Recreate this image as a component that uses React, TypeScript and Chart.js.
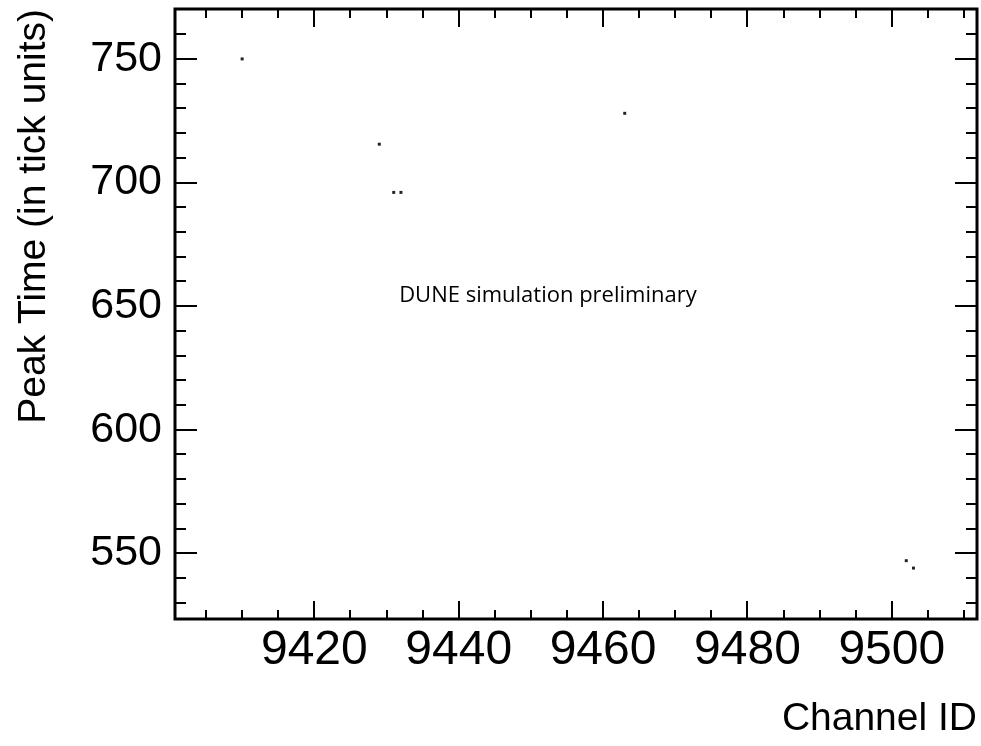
import React, { useEffect, useRef } from 'react';
import { Chart, registerables } from 'chart.js';

Chart.register(...registerables);

// ---- data ----
const channelIds = [9410, 9429, 9431, 9432, 9463, 9502, 9503];
const peakTimes = [750, 715.5, 696, 696, 728, 547, 544];

const xTickValues = [9420, 9440, 9460, 9480, 9500];
const yTickValues = [550, 600, 650, 700, 750];
const xRange = [9400.7, 9511.8];
const yRange = [523.4, 770.2];
const xMinorStep = 5;
const yMinorStep = 10;

const xTitle = 'Channel ID';
const yTitle = 'Peak Time (in tick units)';
const watermark = 'DUNE simulation preliminary';

const FONT = '"Liberation Sans", Arial, Helvetica, sans-serif';

const framePlugin = {
  id: 'rootFrame',
  afterDraw(chart: any) {
    const { ctx, chartArea: a } = chart;
    const xs = chart.scales.x;
    const ys = chart.scales.y;
    ctx.save();
    ctx.strokeStyle = '#000';
    ctx.lineWidth = 2;
    const line = (x1: number, y1: number, x2: number, y2: number) => {
      ctx.beginPath();
      ctx.moveTo(x1, y1);
      ctx.lineTo(x2, y2);
      ctx.stroke();
    };
    // x ticks (bottom and top, inside)
    const x0 = Math.ceil(xRange[0] / xMinorStep) * xMinorStep;
    for (let v = x0; v < xRange[1]; v += xMinorStep) {
      const major = xTickValues.includes(v) || v % 20 === 0;
      const len = major ? 18 : 9;
      const px = Math.round(xs.getPixelForValue(v));
      line(px, a.bottom, px, a.bottom - len);
      line(px, a.top, px, a.top + len);
    }
    // y ticks (left and right, inside)
    const y0 = Math.ceil(yRange[0] / yMinorStep) * yMinorStep;
    for (let v = y0; v < yRange[1]; v += yMinorStep) {
      const major = yTickValues.includes(v) || v % 50 === 0;
      const len = major ? 22 : 11;
      const py = Math.round(ys.getPixelForValue(v));
      line(a.left, py, a.left + len, py);
      line(a.right, py, a.right - len, py);
    }
    // frame
    ctx.lineWidth = 3;
    ctx.strokeRect(a.left, a.top, a.right - a.left, a.bottom - a.top);

    // watermark text
    ctx.fillStyle = '#000';
    ctx.font = '22px "Open Sans", "Noto Sans", sans-serif';
    ctx.textAlign = 'center';
    ctx.textBaseline = 'alphabetic';
    const w = a.right - a.left;
    const h = a.bottom - a.top;
    ctx.fillText(watermark, a.left + 0.465 * w, a.top + 0.481 * h);
    ctx.restore();
  },
};

const zeroPad = (s: any) => {
  s.paddingTop = 0;
  s.paddingBottom = 0;
  s.paddingLeft = 0;
  s.paddingRight = 0;
};

export default function App() {
  const canvasRef = useRef<HTMLCanvasElement | null>(null);

  useEffect(() => {
    const canvas = canvasRef.current;
    if (!canvas) return;
    const points = channelIds.map((c, i) => ({ x: c, y: peakTimes[i] }));
    const chart = new Chart(canvas, {
      type: 'scatter',
      data: {
        datasets: [
          {
            data: points,
            pointStyle: 'rect',
            pointRadius: 2.1,
            pointBorderWidth: 0,
            pointBackgroundColor: '#222',
            backgroundColor: '#222',
            borderWidth: 0,
          },
        ],
      },
      options: {
        responsive: false,
        devicePixelRatio: 1,
        animation: false,
        layout: { padding: { left: 0, top: 9, right: 4, bottom: 0 } },
        plugins: {
          legend: { display: false },
          tooltip: { enabled: false },
        },
        scales: {
          x: {
            type: 'linear',
            min: xRange[0],
            max: xRange[1],
            grid: { display: false, drawTicks: false },
            border: { display: false },
            afterBuildTicks: (s: any) => {
              s.ticks = xTickValues.map((v) => ({ value: v }));
            },
            afterFit: (s: any) => {
              s.height = 127;
              zeroPad(s);
            },
            ticks: {
              color: '#000',
              padding: 3,
              maxRotation: 0,
              autoSkip: false,
              font: { family: FONT, size: 48, lineHeight: 1.2 },
              callback: (v: any) => String(v),
            },
            title: {
              display: true,
              text: xTitle,
              align: 'end',
              color: '#000',
              padding: { top: 0, bottom: 3 },
              font: { family: FONT, size: 39, lineHeight: 1.2 },
            },
          },
          y: {
            type: 'linear',
            min: yRange[0],
            max: yRange[1],
            grid: { display: false, drawTicks: false },
            border: { display: false },
            afterBuildTicks: (s: any) => {
              s.ticks = yTickValues.map((v) => ({ value: v }));
            },
            afterFit: (s: any) => {
              s.width = 175;
              zeroPad(s);
            },
            ticks: {
              color: '#000',
              padding: 13,
              autoSkip: false,
              font: { family: FONT, size: 43, lineHeight: 1.2 },
              callback: (v: any) => String(v),
            },
            title: {
              display: true,
              text: yTitle,
              align: 'end',
              color: '#000',
              padding: { top: 11, bottom: 0 },
              font: { family: FONT, size: 39, lineHeight: 1.2 },
            },
          },
        },
      },
      plugins: [framePlugin],
    });
    return () => chart.destroy();
  }, []);

  return (
    <div style={{ position: 'absolute', left: 0, top: 0, width: 981, height: 746, background: '#fff' }}>
      <canvas ref={canvasRef} width={981} height={746} style={{ display: 'block' }} />
    </div>
  );
}
